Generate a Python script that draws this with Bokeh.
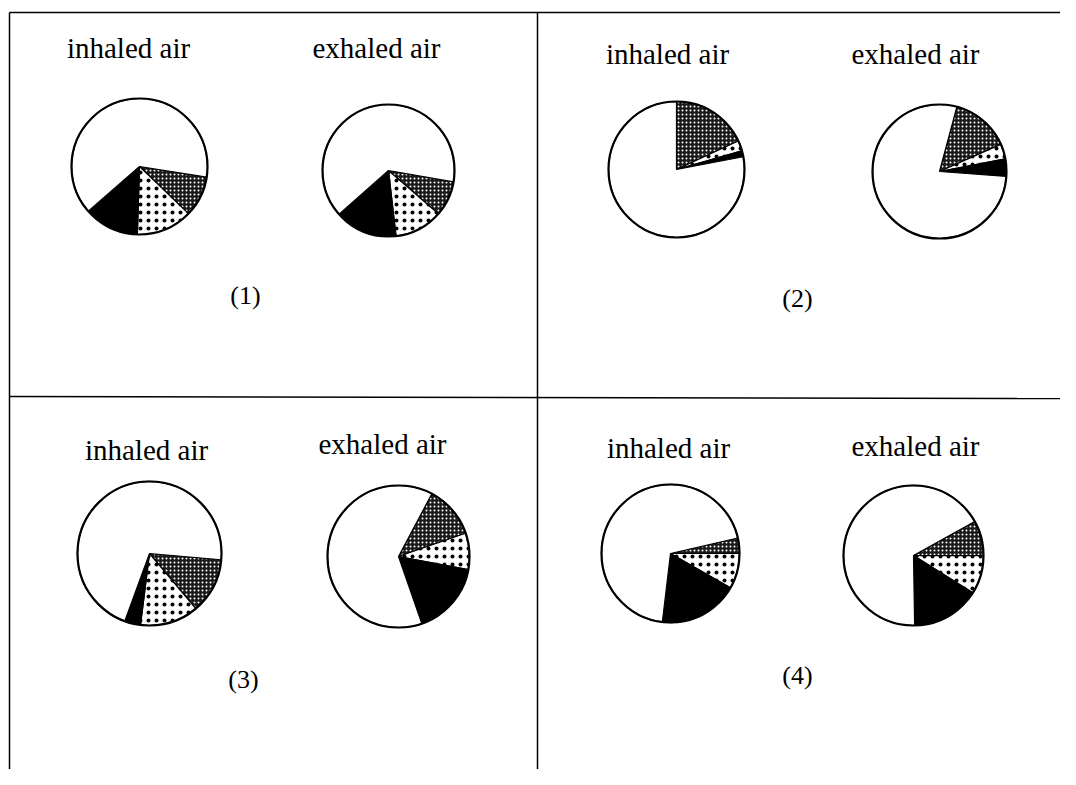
import math
from bokeh.plotting import figure
from bokeh.models import Range1d, ColumnDataSource
from bokeh.core.properties import value
from bokeh.embed import file_html
from bokeh.resources import INLINE

# ---------------- data (percent of each pie) ----------------
components = ["crosshatched", "dotted", "black", "white"]
pie_titles = ["inhaled air", "exhaled air"]
panel_labels = ["(1)", "(2)", "(3)", "(4)"]

inhaled_1 = [9.7, 13.3, 13.1, 63.9]
exhaled_1 = [8.6, 11.8, 15.3, 64.3]
inhaled_2 = [18.1, 2.5, 1.4, 78.0]
exhaled_2 = [14.2, 3.6, 4.2, 78.0]
inhaled_3 = [12.5, 13.1, 3.6, 70.8]
exhaled_3 = [11.9, 8.3, 16.7, 63.1]
inhaled_4 = [3.6, 8.3, 18.6, 69.5]
exhaled_4 = [8.1, 8.9, 15.8, 67.2]

pies = [inhaled_1, exhaled_1, inhaled_2, exhaled_2,
        inhaled_3, exhaled_3, inhaled_4, exhaled_4]

# ---------------- layout (screenshot pixel coordinates) ----------------
pie_cx = [139, 388, 676, 939, 149, 398, 670, 913]
pie_cy = [166, 170, 169, 171, 553, 556, 553, 555]
pie_r = [68, 66, 68, 67, 72, 71, 69, 70]
start_deg = [-9, -10, 90, 75, -5, 62, 13, 29]   # orientation of first slice

title_x = [128, 376, 667, 915, 146, 382, 668, 915]
title_y = [47, 47, 53, 53, 449, 443, 447, 445]
label_x = [245, 797, 243, 797]
label_y = [295, 298, 679, 675]

styles = {
    "crosshatched": dict(fill_color="#1a1a1a", hatch_pattern="dot", hatch_color="white",
                         hatch_scale=4, hatch_weight=1.4),
    "dotted": dict(fill_color="white", hatch_pattern="dot", hatch_color="black",
                   hatch_scale=8, hatch_weight=1.3),
    "black": dict(fill_color="black"),
    "white": dict(fill_color="white"),
}

W, H = 1060, 769
p = figure(width=W, height=H, output_backend="svg", toolbar_location=None,
           x_range=Range1d(0, W), y_range=Range1d(H, 0),
           min_border=0, outline_line_color=None)
p.axis.visible = False
p.grid.visible = False
p.background_fill_color = "white"
p.border_fill_color = "white"

# table lines
p.segment(x0=[9, 9, 537, 9], y0=[12, 12, 12, 396], x1=[9, W, 537, W], y1=[H, 12, H, 398],
          line_color="black", line_width=1.5)

# pies
for i, vals in enumerate(pies):
    a = math.radians(start_deg[i])
    for comp, v in zip(components, vals):
        sweep = math.radians(v / 100.0 * 360.0)
        src = ColumnDataSource(dict(x=[pie_cx[i]], y=[pie_cy[i]], s=[a - sweep], e=[a]))
        p.wedge(x="x", y="y", radius=pie_r[i], start_angle="s", end_angle="e",
                source=src, line_color="black", line_width=1.2, **styles[comp])
        a -= sweep
    p.circle(x=[pie_cx[i]], y=[pie_cy[i]], radius=pie_r[i], fill_color=None,
             line_color="black", line_width=2.2)

# titles
tx = ColumnDataSource(dict(x=title_x, y=title_y, t=pie_titles * 4))
p.text(x="x", y="y", text="t", source=tx, text_font=value("Liberation Serif"),
       text_font_size=value("29px"), text_align="center", text_baseline="middle",
       text_color="black")

lb = ColumnDataSource(dict(x=label_x, y=label_y, t=panel_labels))
p.text(x="x", y="y", text="t", source=lb, text_font=value("Liberation Serif"),
       text_font_size=value("26px"), text_align="center", text_baseline="middle",
       text_color="black")

open("out.html", "w").write(file_html(p, INLINE))
